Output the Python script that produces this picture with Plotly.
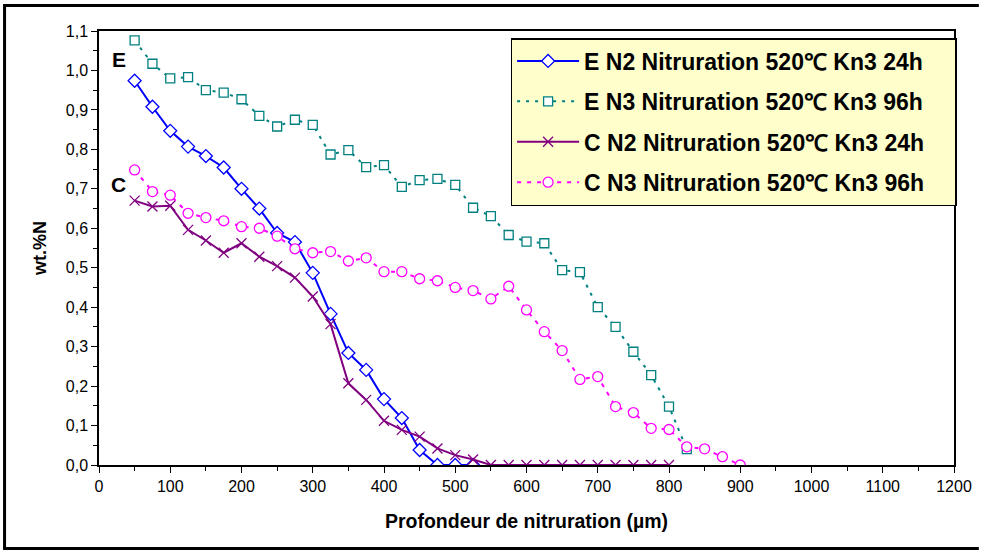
import plotly.graph_objects as go

# ---- data ----
x_en2 = [50, 75, 100, 125, 150, 175, 200, 225, 250, 275, 300, 325, 350, 375, 400, 425, 450, 475, 500, 525]
y_en2 = [0.974, 0.908, 0.847, 0.807, 0.783, 0.754, 0.700, 0.650, 0.588, 0.565, 0.487, 0.383, 0.284, 0.241,
         0.167, 0.119, 0.038, 0.0, 0.0, 0.0]

x_en3 = [50, 75, 100, 125, 150, 175, 200, 225, 250, 275, 300, 325, 350, 375, 400, 425, 450, 475, 500, 525,
         550, 575, 600, 625, 650, 675, 700, 725, 750, 775, 800, 825]
y_en3 = [1.076, 1.017, 0.980, 0.983, 0.950, 0.944, 0.927, 0.885, 0.858, 0.875, 0.862, 0.787, 0.798, 0.755,
         0.760, 0.705, 0.722, 0.725, 0.710, 0.652, 0.631, 0.583, 0.566, 0.562, 0.494, 0.489, 0.400, 0.350,
         0.287, 0.228, 0.148, 0.040]

x_cn2 = [50, 75, 100, 125, 150, 175, 200, 225, 250, 275, 300, 325, 350, 375, 400, 425, 450, 475, 500, 525,
         550, 575, 600, 625, 650, 675, 700, 725, 750, 775, 800]
y_cn2 = [0.670, 0.655, 0.657, 0.596, 0.569, 0.538, 0.562, 0.528, 0.504, 0.475, 0.427, 0.357, 0.207, 0.165,
         0.112, 0.089, 0.072, 0.042, 0.025, 0.014, 0.0, 0.0, 0.0, 0.0, 0.0, 0.0, 0.0, 0.0, 0.0, 0.0, 0.0]

x_cn3 = [50, 75, 100, 125, 150, 175, 200, 225, 250, 275, 300, 325, 350, 375, 400, 425, 450, 475, 500, 525,
         550, 575, 600, 625, 650, 675, 700, 725, 750, 775, 800, 825, 850, 875, 900]
y_cn3 = [0.748, 0.693, 0.684, 0.638, 0.627, 0.619, 0.604, 0.600, 0.580, 0.548, 0.538, 0.541, 0.517, 0.525,
         0.490, 0.490, 0.472, 0.467, 0.450, 0.442, 0.421, 0.453, 0.393, 0.338, 0.290, 0.217, 0.224, 0.148,
         0.133, 0.093, 0.090, 0.046, 0.041, 0.021, 0.0]

names = ["E N2 Nitruration 520℃ Kn3 24h", "E N3 Nitruration 520℃ Kn3 96h",
         "C N2 Nitruration 520℃ Kn3 24h", "C N3 Nitruration 520℃ Kn3 96h"]

x_title = "Profondeur de nitruration (µm)"
y_title = "wt.%N"

PAD = "\u00a0" * 4  # invisible padding to widen the legend box

fig = go.Figure()

fig.add_trace(go.Scatter(
    x=x_en2, y=y_en2, name="<b>" + names[0] + "</b>" + PAD, mode="lines+markers", legendgroup="g1",
    line=dict(color="#0000FF", width=2),
    marker=dict(symbol="diamond", size=10, color="white", line=dict(color="#0000FF", width=1.3))))

fig.add_trace(go.Scatter(
    x=x_en3, y=y_en3, name="<b>" + names[1] + "</b>" + PAD, mode="lines+markers", legendgroup="g2",
    line=dict(color="#008080", width=2, dash="3px,6px"),
    marker=dict(symbol="square", size=9, color="white", line=dict(color="#008080", width=1.3))))

fig.add_trace(go.Scatter(
    x=x_cn2, y=y_cn2, name="<b>" + names[2] + "</b>" + PAD, mode="lines+markers", legendgroup="g3",
    line=dict(color="#800080", width=2),
    marker=dict(symbol="x-thin", size=10, color="#800080", line=dict(color="#800080", width=1.3))))

fig.add_trace(go.Scatter(
    x=x_cn3, y=y_cn3, name="<b>" + names[3] + "</b>" + PAD, mode="lines+markers", legendgroup="g4",
    line=dict(color="#FF00FF", width=2, dash="4px,6px"),
    marker=dict(symbol="circle", size=10, color="white", line=dict(color="#FF00FF", width=1.3))))

fig.add_annotation(x=28, y=1.027, text="<b>E</b>", showarrow=False,
                   font=dict(family="Liberation Sans, Arial", size=21, color="black"))
fig.add_annotation(x=28, y=0.712, text="<b>C</b>", showarrow=False,
                   font=dict(family="Liberation Sans, Arial", size=21, color="black"))

# outer frame of the picture (left, top, bottom)
def px(v):
    return (v - 99) / 860.0

def py(v):
    return (465 - v) / 434.0

frame = dict(color="black", width=3)
fig.add_shape(type="line", xref="paper", yref="paper", x0=px(4), x1=px(4), y0=py(5.5), y1=py(548.5), line=frame)
fig.add_shape(type="line", xref="paper", yref="paper", x0=px(2.5), x1=px(984), y0=py(5.5), y1=py(5.5), line=frame)
fig.add_shape(type="line", xref="paper", yref="paper", x0=px(2.5), x1=px(984), y0=py(548.5), y1=py(548.5), line=frame)

fig.update_layout(
    width=984, height=551,
    margin=dict(l=99, r=25, t=31, b=86),
    paper_bgcolor="white", plot_bgcolor="white",
    separators=",.",
    font=dict(family="Liberation Sans, Arial", size=16, color="black"),
    showlegend=True,
    legend=dict(
        x=px(513), y=py(38), xanchor="left", yanchor="top",
        bgcolor="#FFFFCC", bordercolor="black", borderwidth=1.5,
        font=dict(family="Liberation Sans, Arial", size=23, color="black"),
        tracegroupgap=7.5, itemwidth=62,
    ),
    xaxis=dict(
        range=[0, 1200], tickmode="linear", tick0=0, dtick=100, tickformat="d",
        showgrid=False, zeroline=False,
        showline=True, linecolor="black", linewidth=1.5, mirror=True,
        ticks="outside", ticklen=6, tickcolor="black", tickwidth=1,
        minor=dict(dtick=50, ticks="outside", ticklen=4, tickcolor="black", showgrid=False),
        tickfont=dict(size=16),
        title=dict(text="<b>" + x_title + "</b>", font=dict(size=19.5), standoff=20),
    ),
    yaxis=dict(
        range=[0, 1.1], tickmode="linear", tick0=0, dtick=0.1, tickformat=".1f",
        showgrid=False, zeroline=False,
        showline=True, linecolor="black", linewidth=1.5, mirror=True,
        ticks="outside", ticklen=6, tickcolor="black", tickwidth=1,
        minor=dict(dtick=0.05, ticks="outside", ticklen=4, tickcolor="black", showgrid=False),
        tickfont=dict(size=16),
        title=dict(text="<b>" + y_title + "</b>", font=dict(size=18), standoff=14),
    ),
)

fig.write_html("out.html", post_script="document.body.style.margin='0';",
               config={"displayModeBar": False})
